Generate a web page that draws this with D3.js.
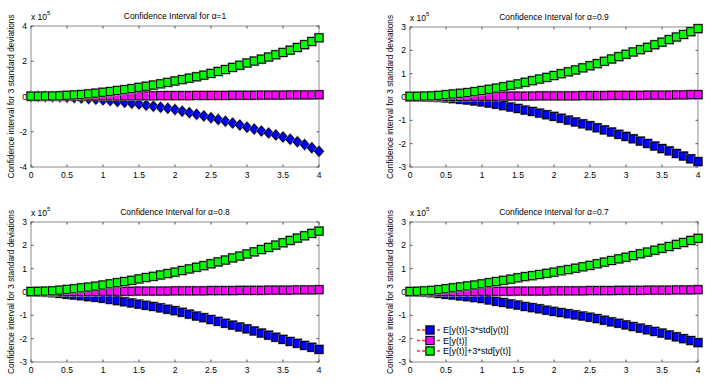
<!DOCTYPE html>
<html>
<head>
<meta charset="utf-8">
<script src="https://cdn.jsdelivr.net/npm/d3@7"></script>
<style>
  body { margin: 0; background: #fff; }
  svg { display: block; font-family: "Liberation Sans", Arial, sans-serif; }
</style>
</head>
<body>
<svg id="chart" width="714" height="387"></svg>
<script>
// time grid t = 0 .. 4
var times = [0,0.1,0.2,0.3,0.4,0.5,0.6,0.7,0.8,0.9,1,1.1,1.2,1.3,1.4,1.5,1.6,1.7,1.8,1.9,2,
             2.1,2.2,2.3,2.4,2.5,2.6,2.7,2.8,2.9,3,3.1,3.2,3.3,3.4,3.5,3.6,3.7,3.8,3.9,4];
var xTicks = [0,0.5,1,1.5,2,2.5,3,3.5,4];
var alphas = ["1","0.9","0.8","0.7"];
var yTicksA = [-4,-2,0,2,4];
var yTicksB = [-3,-2,-1,0,1,2,3];
var legendLabels = ["E[y(t)]-3*std[y(t)]", "E[y(t)]", "E[y(t)]+3*std[y(t)]"];

// values in units of 1e5
var low1 = [0.01,0.01,0.00,-0.01,-0.02,-0.04,-0.06,-0.09,-0.12,-0.15,-0.19,-0.23,-0.28,-0.33,-0.38,-0.43,-0.49,-0.55,-0.61,-0.67,-0.74,
            -0.83,-0.92,-1.01,-1.10,-1.20,-1.30,-1.40,-1.51,-1.62,-1.74,-1.85,-1.96,-2.07,-2.18,-2.30,-2.43,-2.57,-2.73,-2.91,-3.11];
var mean1 = [0.01,0.01,0.01,0.01,0.01,0.01,0.02,0.02,0.02,0.02,0.03,0.03,0.03,0.03,0.04,0.04,0.04,0.04,0.05,0.05,0.05,
             0.05,0.05,0.06,0.06,0.06,0.06,0.06,0.07,0.07,0.07,0.07,0.08,0.08,0.08,0.08,0.09,0.09,0.09,0.09,0.10];
var up1 = [0.02,0.02,0.03,0.03,0.04,0.07,0.09,0.11,0.15,0.19,0.24,0.28,0.34,0.39,0.45,0.52,0.58,0.65,0.72,0.80,0.88,
           0.96,1.04,1.12,1.21,1.31,1.42,1.53,1.65,1.77,1.90,2.01,2.12,2.24,2.37,2.50,2.63,2.78,2.94,3.12,3.33];

var low2 = [0.01,0.01,0.00,-0.01,-0.02,-0.04,-0.07,-0.10,-0.13,-0.17,-0.21,-0.26,-0.31,-0.37,-0.43,-0.49,-0.56,-0.62,-0.69,-0.76,-0.83,
            -0.91,-0.99,-1.07,-1.15,-1.23,-1.32,-1.41,-1.50,-1.60,-1.69,-1.79,-1.89,-1.99,-2.10,-2.21,-2.31,-2.42,-2.53,-2.65,-2.77];
var mean2 = [0.01,0.01,0.01,0.01,0.01,0.02,0.02,0.02,0.02,0.03,0.03,0.03,0.03,0.04,0.04,0.04,0.04,0.04,0.05,0.05,0.05,
             0.05,0.05,0.05,0.06,0.06,0.06,0.06,0.07,0.07,0.07,0.07,0.07,0.08,0.08,0.08,0.08,0.09,0.09,0.10,0.10];
var up2 = [0.03,0.03,0.04,0.05,0.07,0.10,0.13,0.16,0.19,0.23,0.28,0.33,0.38,0.44,0.50,0.56,0.63,0.70,0.77,0.84,0.92,
           1.00,1.08,1.16,1.25,1.34,1.43,1.53,1.63,1.73,1.83,1.93,2.03,2.13,2.24,2.35,2.46,2.57,2.68,2.80,2.93];

var low3 = [0.01,0.00,-0.01,-0.03,-0.06,-0.10,-0.13,-0.16,-0.20,-0.23,-0.27,-0.32,-0.37,-0.42,-0.47,-0.52,-0.57,-0.62,-0.68,-0.74,-0.80,
            -0.87,-0.95,-1.03,-1.10,-1.18,-1.26,-1.34,-1.42,-1.50,-1.58,-1.67,-1.76,-1.85,-1.94,-2.03,-2.12,-2.20,-2.29,-2.37,-2.46];
var mean3 = [0.01,0.01,0.01,0.01,0.01,0.01,0.02,0.02,0.02,0.02,0.03,0.03,0.03,0.03,0.03,0.04,0.04,0.04,0.04,0.04,0.05,
             0.05,0.05,0.05,0.05,0.06,0.06,0.06,0.06,0.07,0.07,0.07,0.07,0.08,0.08,0.08,0.08,0.09,0.09,0.09,0.10];
var up3 = [0.02,0.03,0.04,0.05,0.08,0.11,0.14,0.18,0.21,0.25,0.30,0.35,0.40,0.45,0.50,0.56,0.62,0.67,0.73,0.79,0.85,
           0.92,0.99,1.06,1.13,1.21,1.29,1.37,1.46,1.54,1.63,1.72,1.82,1.91,2.01,2.11,2.21,2.31,2.41,2.51,2.61];

var low4 = [0.01,0.00,-0.01,-0.03,-0.06,-0.10,-0.13,-0.17,-0.20,-0.24,-0.28,-0.34,-0.40,-0.45,-0.51,-0.56,-0.62,-0.67,-0.72,-0.78,-0.83,
            -0.88,-0.93,-0.98,-1.03,-1.08,-1.14,-1.21,-1.28,-1.34,-1.41,-1.48,-1.55,-1.62,-1.69,-1.76,-1.84,-1.92,-2.00,-2.08,-2.17];
var mean4 = [0.01,0.01,0.01,0.01,0.01,0.01,0.02,0.02,0.02,0.02,0.03,0.03,0.03,0.03,0.03,0.04,0.04,0.04,0.04,0.04,0.05,
             0.05,0.05,0.05,0.05,0.06,0.06,0.06,0.06,0.07,0.07,0.07,0.07,0.08,0.08,0.08,0.08,0.09,0.09,0.09,0.10];
var up4 = [0.02,0.03,0.05,0.07,0.10,0.14,0.18,0.22,0.26,0.30,0.35,0.40,0.45,0.50,0.55,0.61,0.66,0.70,0.75,0.80,0.85,
           0.91,0.96,1.02,1.08,1.14,1.21,1.28,1.35,1.42,1.49,1.56,1.64,1.71,1.79,1.87,1.95,2.04,2.12,2.21,2.30];

var colors = ["#0000ff", "#ff00ff", "#00ff00"];

var panels = [
  {left: 31,  right: 319, top: 26,  bottom: 167, ymax: 4, ticks: yTicksA, series: [low1, mean1, up1], diamond: true},
  {left: 410, right: 698, top: 27,  bottom: 167, ymax: 3, ticks: yTicksB, series: [low2, mean2, up2]},
  {left: 31,  right: 319, top: 222, bottom: 362, ymax: 3, ticks: yTicksB, series: [low3, mean3, up3]},
  {left: 410, right: 698, top: 222, bottom: 362, ymax: 3, ticks: yTicksB, series: [low4, mean4, up4], legend: true}
];

var svg = d3.select("#chart");

function drawMarker(g, shape, cx, cy, fill) {
  if (shape == "diamond") {
    var p = "M" + cx + "," + (cy - 6.5) + "L" + (cx + 5.5) + "," + cy + "L" + cx + "," + (cy + 6.5) + "L" + (cx - 5.5) + "," + cy + "Z";
    var q = "M" + cx + "," + (cy - 5) + "L" + (cx + 4.5) + "," + cy + "L" + cx + "," + (cy + 5) + "L" + (cx - 4.5) + "," + cy + "Z";
    g.append("path").attr("d", p).attr("fill", "#9a9a9a");
    g.append("path").attr("d", q).attr("fill", fill).attr("stroke", "#000").attr("stroke-width", 1);
  } else {
    g.append("rect").attr("x", cx - 5).attr("y", cy - 5).attr("width", 10).attr("height", 10).attr("fill", "#9a9a9a");
    g.append("rect").attr("x", cx - 4).attr("y", cy - 4).attr("width", 8).attr("height", 8)
      .attr("fill", fill).attr("stroke", "#000").attr("stroke-width", 1);
  }
}

panels.forEach(function(p, pi) {
  var x = d3.scaleLinear().domain([0, 4]).range([p.left, p.right]);
  var y = d3.scaleLinear().domain([-p.ymax, p.ymax]).range([p.bottom, p.top]);
  var g = svg.append("g");

  // axes box
  g.append("rect")
    .attr("x", p.left).attr("y", p.top)
    .attr("width", p.right - p.left).attr("height", p.bottom - p.top)
    .attr("fill", "none").attr("stroke", "#a0a0a0").attr("stroke-width", 1.2);

  // ticks inward on all sides
  xTicks.forEach(function(t) {
    g.append("line").attr("x1", x(t)).attr("x2", x(t)).attr("y1", p.bottom).attr("y2", p.bottom - 2.5).attr("stroke", "#555");
    g.append("line").attr("x1", x(t)).attr("x2", x(t)).attr("y1", p.top).attr("y2", p.top + 2.5).attr("stroke", "#555");
    g.append("text").attr("x", x(t)).attr("y", p.bottom + 11)
      .attr("text-anchor", "middle").attr("font-size", 8.5).text(t);
  });
  p.ticks.forEach(function(t) {
    g.append("line").attr("x1", p.left).attr("x2", p.left + 2.5).attr("y1", y(t)).attr("y2", y(t)).attr("stroke", "#555");
    g.append("line").attr("x1", p.right).attr("x2", p.right - 2.5).attr("y1", y(t)).attr("y2", y(t)).attr("stroke", "#555");
    g.append("text").attr("x", p.left - 4).attr("y", y(t) + 3)
      .attr("text-anchor", "end").attr("font-size", 8.5).text(t);
  });

  // exponent label
  var ex = g.append("text").attr("x", p.left).attr("y", p.top - 6).attr("font-size", 8.5);
  ex.append("tspan").text("x 10");
  ex.append("tspan").attr("dy", -5).attr("font-size", 6).text("5");

  // title
  g.append("text").attr("x", (p.left + p.right) / 2).attr("y", p.top - 7)
    .attr("text-anchor", "middle").attr("font-size", 8.5)
    .text("Confidence Interval for \u03b1=" + alphas[pi]);

  // y label
  g.append("text")
    .attr("transform", "translate(" + (p.left - 17) + "," + ((p.top + p.bottom) / 2) + ") rotate(-90)")
    .attr("text-anchor", "middle").attr("font-size", 8.3)
    .text("Confidence interval for 3 standard deviations");

  // series
  var line = d3.line().x(function(d, i) { return x(times[i]); }).y(function(d) { return y(d); });
  p.series.forEach(function(vals, si) {
    var sg = g.append("g");
    sg.append("path").attr("d", line(vals)).attr("fill", "none")
      .attr("stroke", "#ff0000").attr("stroke-dasharray", "3,2").attr("stroke-width", 1);
    var shape = (p.diamond && si == 0) ? "diamond" : "square";
    vals.forEach(function(v, i) {
      drawMarker(sg, shape, x(times[i]), y(v), colors[si]);
    });
  });

  if (p.legend) {
    var lg = g.append("g");
    legendLabels.forEach(function(lab, li) {
      var ly = 330 + li * 10.5;
      lg.append("line").attr("x1", 417).attr("x2", 440).attr("y1", ly).attr("y2", ly)
        .attr("stroke", "#ff3030").attr("stroke-width", 1.5).attr("stroke-dasharray", "3,2");
      drawMarker(lg, "square", 430, ly, colors[li]);
      lg.append("text").attr("x", 443).attr("y", ly + 3).attr("font-size", 9).text(lab);
    });
  }
});
</script>
</body>
</html>
